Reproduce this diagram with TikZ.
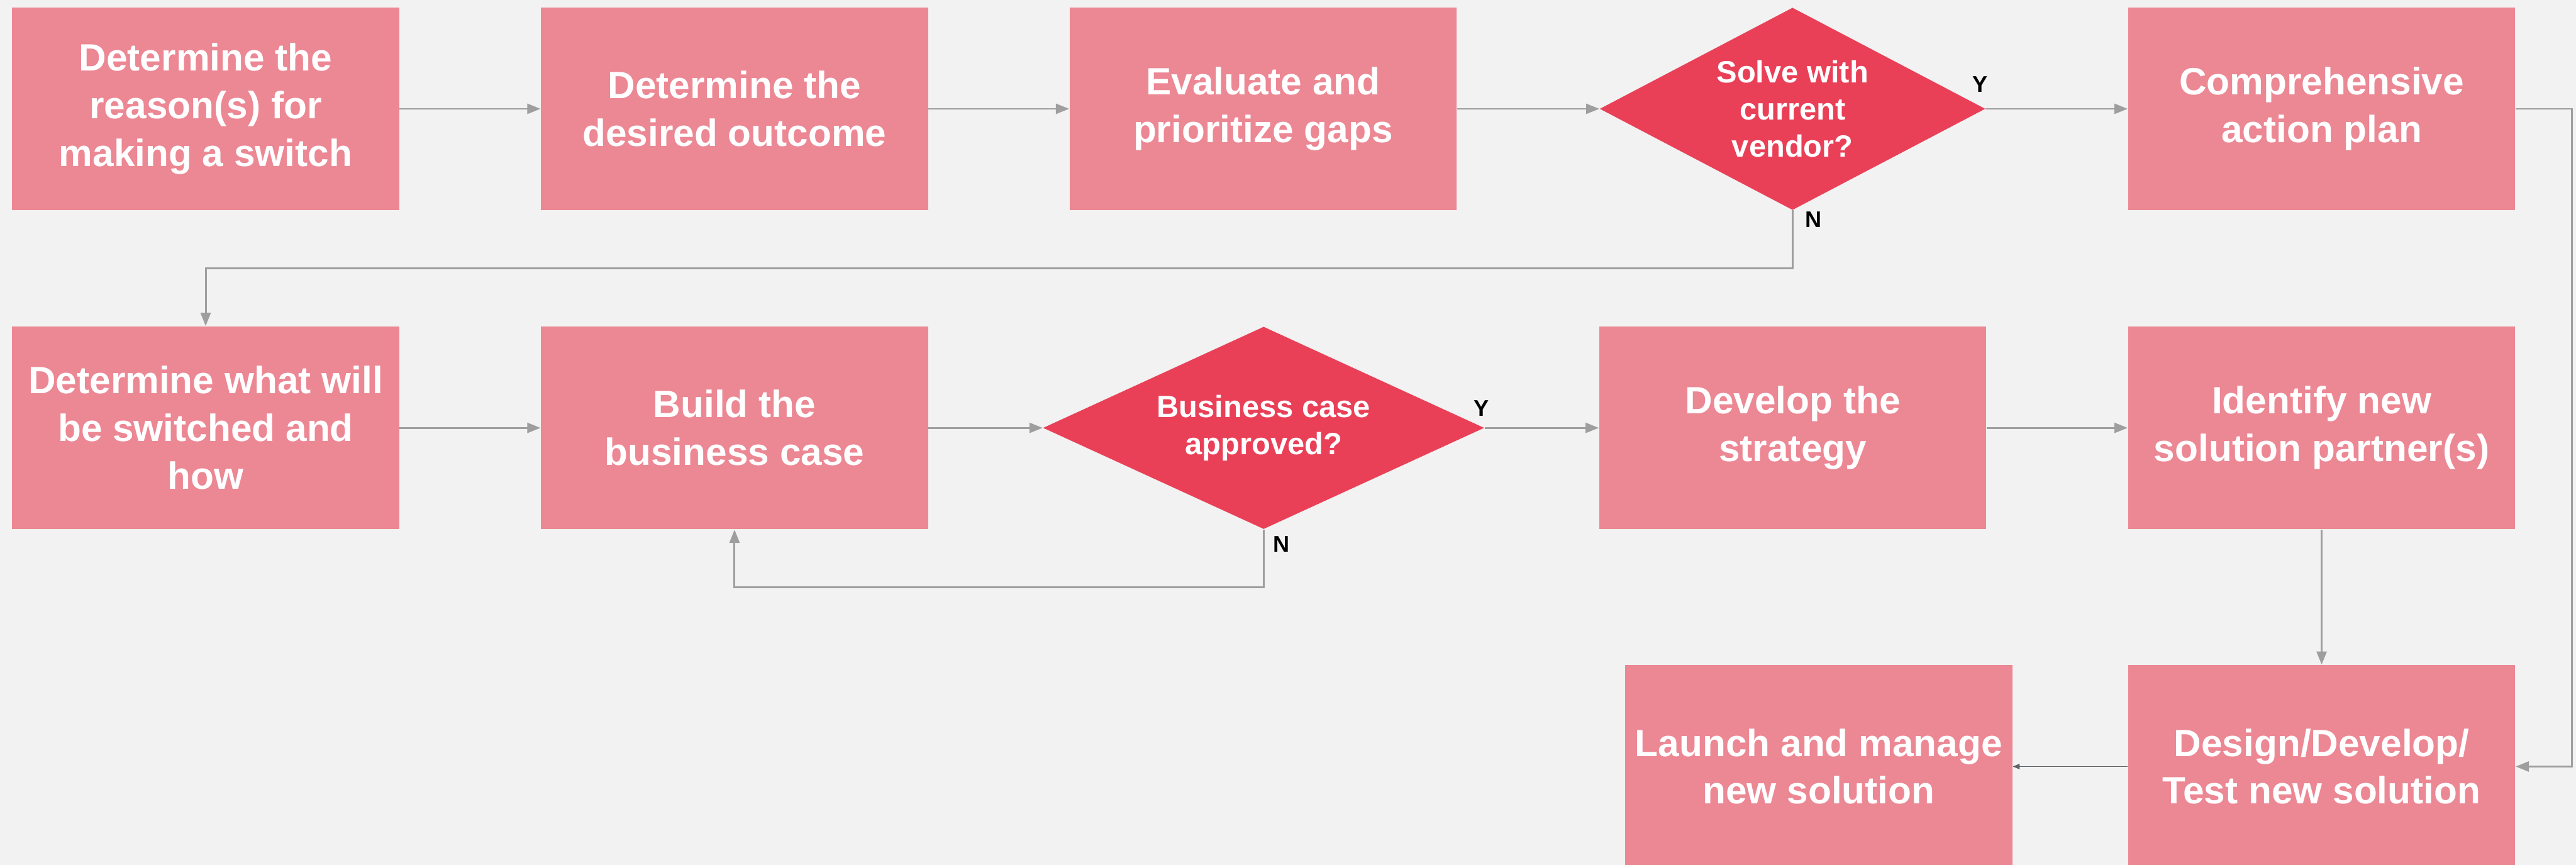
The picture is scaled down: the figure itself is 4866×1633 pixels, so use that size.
\documentclass[tikz,border=0pt]{standalone}
\usepackage{fontspec}
\setmainfont{Liberation Sans}
\usetikzlibrary{shapes.geometric,arrows.meta}

\definecolor{pagebg}{HTML}{F1F2F1}
\definecolor{stepfill}{HTML}{EC8794}
\definecolor{decfill}{HTML}{E94058}
\definecolor{linegray}{HTML}{9E9E9E}
\definecolor{linedark}{HTML}{5F6368}

\tikzset{
  stepbox/.style={rectangle, fill=stepfill, draw=none, inner sep=0pt,
    minimum width=7.31cm, minimum height=3.83cm, text=white, align=center,
    font=\bfseries\fontsize{20.4pt}{25.6pt}\selectfont},
  decision/.style={diamond, fill=decfill, draw=none, inner sep=0pt,
    minimum height=3.82cm},
  dectext/.style={text=white, align=center, inner sep=0pt,
    font=\bfseries\fontsize{16.5pt}{19.9pt}\selectfont},
  yn/.style={text=black, inner sep=0pt, anchor=base,
    font=\bfseries\fontsize{12.2pt}{14pt}\selectfont},
  conn/.style={draw=linegray, line width=0.035cm,
    -{Triangle[length=0.25cm,width=0.19cm]}},
  connplain/.style={draw=linegray, line width=0.035cm},
  conndark/.style={draw=linedark, line width=0.022cm,
    -{Triangle[length=0.13cm,width=0.10cm]}}
}

\begin{document}
\begin{tikzpicture}[x=0.01cm, y=-0.01cm]
  \useasboundingbox (0,0) rectangle (4866,1633);
  \clip (0,0) rectangle (4866,1633);
  \fill[pagebg] (0,0) rectangle (4866,1633);

  % first row
  \node[stepbox] (b1) at (388.5,205.5) {Determine the\\reason(s) for\\making a switch};
  \node[stepbox] (b2) at (1387.5,205.5) {Determine the\\desired outcome};
  \node[stepbox] (b3) at (2386,205.5) {Evaluate and\\prioritize gaps};
  \node[decision, minimum width=7.28cm] (d1) at (3386,205.5) {};
  \node[dectext] (d1t) at (d1.center) {Solve with\\current\\vendor?};
  \node[stepbox] (b4) at (4385.5,205.5) {Comprehensive\\action plan};

  % second row
  \node[stepbox] (b5) at (388.5,808) {Determine what will\\be switched and\\how};
  \node[stepbox] (b6) at (1387.5,808) {Build the\\business case};
  \node[decision, minimum width=8.33cm] (d2) at (2387,808) {};
  \node[dectext] (d2t) at (d2.center) {Business case\\approved?};
  \node[stepbox] (b7) at (3386.5,808) {Develop the\\strategy};
  \node[stepbox] (b8) at (4385.5,808) {Identify new\\solution partner(s)};

  % third row
  \node[stepbox] (b9) at (3435.5,1447.5) {Launch and manage\\new solution};
  \node[stepbox] (b10) at (4385.5,1447.5) {Design/Develop/\\Test new solution};

  % branch labels
  \node[yn] (y1) at (3740,174) {Y};
  \node[yn] (n1) at (3425,430) {N};
  \node[yn] (y2) at (2798,786) {Y};
  \node[yn] (n2) at (2420,1043) {N};

  % routing points of the loops
  \coordinate (k1) at (3386,507);
  \coordinate (k2) at (2387,1109);
  \coordinate (k3) at (4858,205.5);

  % connectors
  \draw[conn] (b1.east) -- (b2.west);
  \draw[conn] (b2.east) -- (b3.west);
  \draw[conn] (b3.east) -- (d1.west);
  \draw[conn] (d1.east) -- (b4.west);
  \draw[conn] (d1.south) -- (k1) -| (b5.north);
  \draw[conn] (b4.east) -- (k3) |- (b10.east);

  \draw[conn] (b5.east) -- (b6.west);
  \draw[conn] (b6.east) -- (d2.west);
  \draw[conn] (d2.east) -- (b7.west);
  \draw[conn] (d2.south) -- (k2) -| (b6.south);
  \draw[conn] (b7.east) -- (b8.west);
  \draw[conn] (b8.south) -- (b10.north);

  \draw[conndark] (b10.west) -- (b9.east);
\end{tikzpicture}
\end{document}
